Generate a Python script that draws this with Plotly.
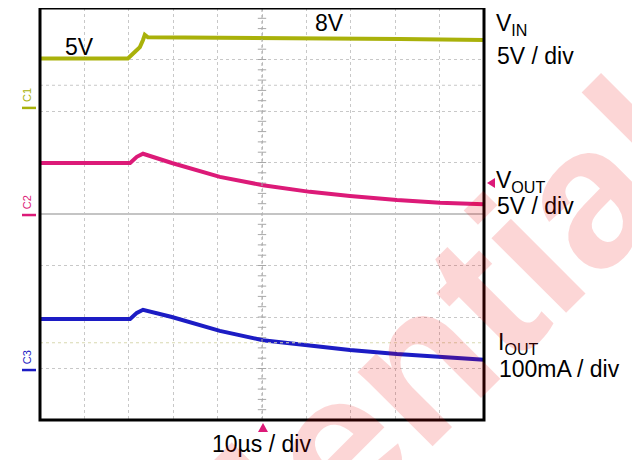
import numpy as np
import plotly.graph_objects as go

# time axis in microseconds (10 us/div, trigger at centre), traces in screen divisions
T_VIN = [-50, -30.2, -28.6, -27.5, -26.8, -26.4, -25.7, 8.6, 31.1, 50]
VIN = [3.02, 3.02, 3.15, 3.24, 3.38, 3.48, 3.43, 3.42, 3.40, 3.38]

T_OUT = [-50, -29.7, -28.2, -26.8, -20.3, -9.5, 0.2, 10.8, 19.8, 30.4, 40.1, 50]
VOUT = [0.99, 0.99, 1.11, 1.17, 0.99, 0.72, 0.56, 0.43, 0.35, 0.27, 0.22, 0.19]
IOUT = [-2.04, -2.04, -1.92, -1.86, -2.0, -2.27, -2.45, -2.56, -2.64, -2.72, -2.78, -2.83]

CH_NAMES = ["C1", "C2", "C3"]
CH_LEVELS = [2.06, -0.02, -3.03]   # ground markers, divisions

C_VIN = "#a9b10a"
C_VOUT = "#dc1a78"
C_IOUT = "#1c1cc4"
CH_COLORS = [C_VIN, C_VOUT, C_IOUT]
FONT = "Liberation Sans, Arial, sans-serif"

# page is offset by the 8px body margin, so the figure is drawn 8px smaller
OFF = 8
L, R, T, B = 40, 484, 8, 420   # plot box in page pixels


def px(x):
    return (x - L) / (R - L)


def py(y):
    return (B - y) / (B - T)


fig = go.Figure()

# centre graticule tick marks
ticks = np.arange(-4, 4.01, 0.2)
fig.add_trace(go.Scatter(x=[0] * len(ticks), y=ticks, mode="markers", hoverinfo="skip",
                         marker=dict(symbol="line-ew", size=6, line=dict(width=1, color="#a8a8a8"))))

fig.add_trace(go.Scatter(x=T_VIN, y=VIN, mode="lines", line=dict(color=C_VIN, width=4)))
fig.add_trace(go.Scatter(x=T_OUT, y=VOUT, mode="lines", line=dict(color=C_VOUT, width=4)))
fig.add_trace(go.Scatter(x=T_OUT, y=IOUT, mode="lines", line=dict(color=C_IOUT, width=4)))

shapes = [
    dict(type="line", xref="paper", x0=0, x1=1, y0=2.5, y1=2.5,
         line=dict(color="#c8c8c8", width=1, dash="dot")),
    dict(type="line", xref="paper", x0=0, x1=1, y0=-2.5, y1=-2.5,
         line=dict(color="#d8d8b0", width=1, dash="dot")),
    dict(type="line", xref="paper", x0=0, x1=1, y0=0, y1=0,
         line=dict(color="#c4c4c4", width=2)),
    dict(type="line", yref="paper", x0=0, x1=0, y0=0, y1=1,
         line=dict(color="#a8a8a8", width=1, dash="dot")),
    dict(type="rect", xref="paper", yref="paper", x0=0, x1=1, y0=0, y1=1,
         line=dict(color="black", width=3)),
    # trigger markers
    dict(type="path", xref="paper", yref="paper", fillcolor=C_VOUT, line=dict(width=0),
         path=f"M {px(258)} {py(432)} L {px(268)} {py(432)} L {px(263)} {py(423)} Z"),
    dict(type="path", xref="paper", yref="paper", fillcolor=C_VOUT, line=dict(width=0),
         path=f"M {px(487)} {py(183)} L {px(495)} {py(178)} L {px(495)} {py(188)} Z"),
]
annotations = []
for name, lvl, col in zip(CH_NAMES, CH_LEVELS, CH_COLORS):
    shapes.append(dict(type="line", xref="paper", x0=px(22), x1=px(36), y0=lvl, y1=lvl,
                       line=dict(color=col, width=2.5)))
    annotations.append(dict(text=name, xref="paper", x=px(27), y=lvl + 0.25,
                            xanchor="center", yanchor="middle",
                            textangle=-90, showarrow=False,
                            font=dict(family=FONT, size=11, color=col)))

labels = [
    ("5V", 63, 47), ("8V", 313, 23),
    ("V<sub>IN</sub>", 494, 25), ("5V / div", 495, 56),
    ("V<sub>OUT</sub>", 494, 181), ("5V / div", 495, 206),
    ("I<sub>OUT</sub>", 496, 343), ("100mA / div", 497, 369),
    ("10µs / div", 210, 444),
]
for text, x, y in labels:
    annotations.append(dict(text=text, xref="paper", yref="paper", x=px(x), y=py(y),
                            xanchor="left", yanchor="middle", showarrow=False,
                            font=dict(family=FONT, size=23, color="black")))

# watermark
annotations.append(dict(text="<b>Confidential</b>", xref="paper", yref="paper",
                        x=px(255), y=py(525), xanchor="center", yanchor="middle",
                        textangle=-45, showarrow=False,
                        font=dict(family=FONT, size=200, color="rgba(235,0,0,0.16)")))

fig.update_layout(
    width=640 - OFF, height=460 - OFF,
    margin=dict(l=L - OFF, r=640 - R, t=T - OFF, b=460 - B),
    paper_bgcolor="white", plot_bgcolor="white",
    showlegend=False,
    shapes=shapes, annotations=annotations,
    xaxis=dict(range=[-50, 50], dtick=10, tick0=-50, showgrid=True, gridcolor="#c8c8c8",
               griddash="dot", gridwidth=1, zeroline=False, showticklabels=False, ticks=""),
    yaxis=dict(range=[-4, 4], dtick=1, tick0=-4, showgrid=True, gridcolor="#c8c8c8",
               griddash="dot", gridwidth=1, zeroline=False, showticklabels=False, ticks=""),
)

fig.write_html("out.html")
